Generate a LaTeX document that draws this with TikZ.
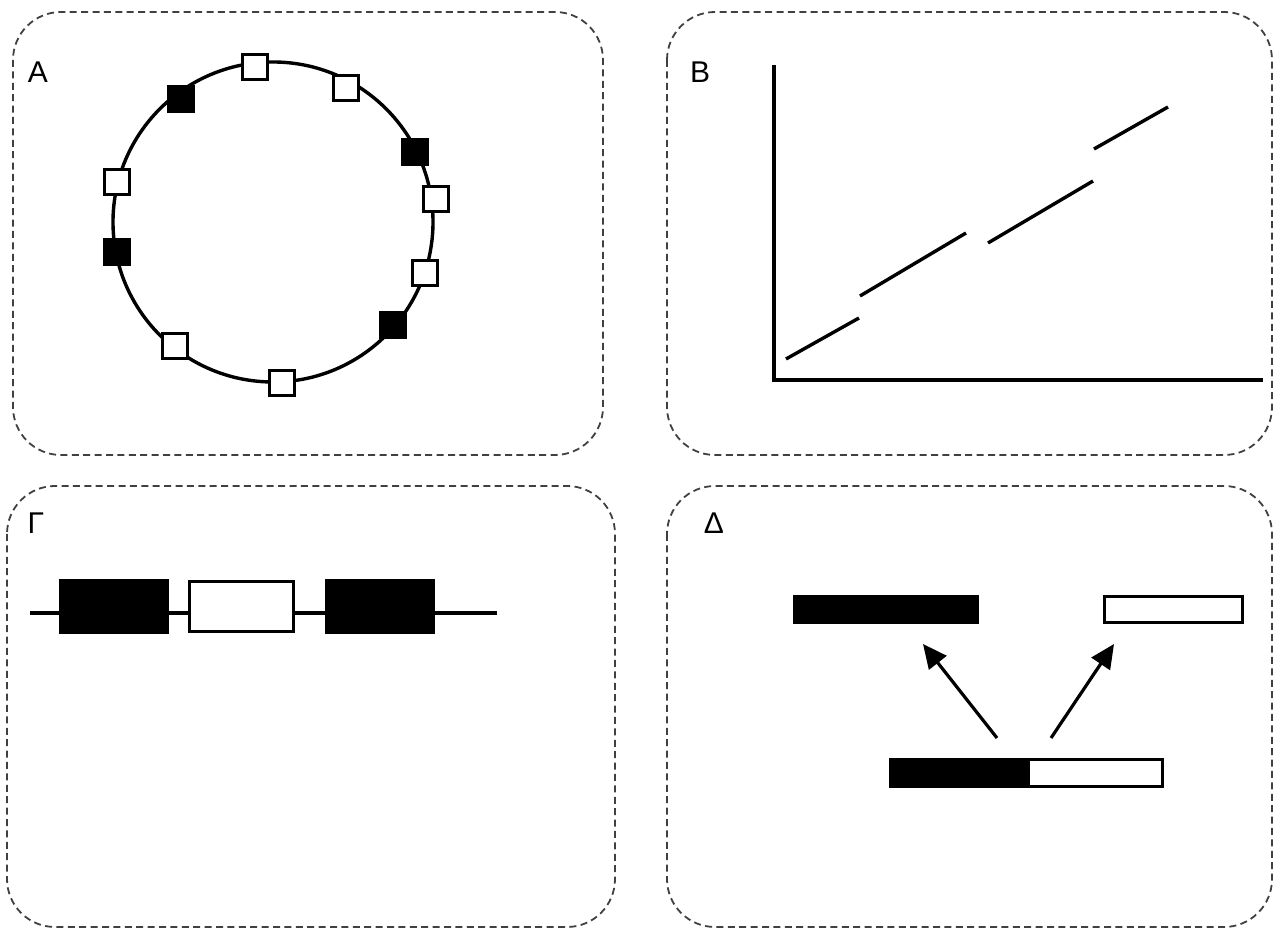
\documentclass[tikz,border=0pt]{standalone}
\usepackage{fontspec}
\setmainfont{Liberation Sans}
\usetikzlibrary{arrows.meta}
\definecolor{dashgray}{HTML}{404040}
\tikzset{
  panel/.style={draw=dashgray, line width=0.9pt, dash pattern=on 3.5pt off 2.2pt, rounded corners=24pt},
  plabel/.style={inner sep=0pt, font=\fontsize{15}{18}\selectfont},
  sqopen/.style={draw=black, fill=white, line width=1.6pt, minimum size=12.5pt, inner sep=0pt},
  sqfull/.style={draw=black, fill=black, line width=1.6pt, minimum size=12.5pt, inner sep=0pt},
  thick line/.style={line width=1.7pt},
  barfull/.style={draw=black, fill=black, line width=1.6pt, inner sep=0pt},
  baropen/.style={draw=black, fill=white, line width=1.6pt, inner sep=0pt},
  arr/.style={line width=1.6pt, -{Triangle[length=12pt,width=11pt]}}
}
\begin{document}
\begin{tikzpicture}[x=0.5pt,y=-0.5pt]
\useasboundingbox (0,0) rectangle (1274,929);
% panels
\draw[panel] (13,12) rectangle (603,455);
\draw[panel] (667,12) rectangle (1272,455);
\draw[panel] (7,486) rectangle (615,927);
\draw[panel] (667,486) rectangle (1272,927);
% labels
\node[plabel] (la) at (38,72) {Α};
\node[plabel] (lb) at (700,72) {Β};
\node[plabel] (lg) at (36,523) {Γ};
\node[plabel] (ld) at (714,523) {Δ};
% panel A
\draw[thick line] (273,222) circle [radius=80pt];
\node[sqopen] (s1) at (255,67) {};
\node[sqopen] (s2) at (346,88) {};
\node[sqfull] (s3) at (415,152) {};
\node[sqopen] (s4) at (436,199) {};
\node[sqopen] (s5) at (425,273) {};
\node[sqfull] (s6) at (393,325) {};
\node[sqopen] (s7) at (282,383) {};
\node[sqopen] (s8) at (175,346) {};
\node[sqfull] (s9) at (117,252) {};
\node[sqopen] (s10) at (117,182) {};
\node[sqfull] (s11) at (181,99) {};
% panel B
\coordinate (ytop) at (774,65);
\coordinate (orig) at (774,380);
\coordinate (xend) at (1263,380);
\draw[thick line] (ytop) -- (orig) -- (xend);
\draw[thick line] (786,359) -- (859,318);
\draw[thick line] (860,296) -- (966,233);
\draw[thick line] (988,243) -- (1093,181);
\draw[thick line] (1094,149) -- (1168,107);
% panel Gamma
\coordinate (g0) at (30,613);
\coordinate (g4) at (497,613);
\node[barfull, minimum width=53.5pt, minimum height=26pt] (g1) at (114,606.5) {};
\node[baropen, minimum width=52pt, minimum height=25pt] (g2) at (241.5,606.5) {};
\node[barfull, minimum width=53.5pt, minimum height=26pt] (g3) at (380,606.5) {};
\draw[thick line] (g0) -- (g0 -| g1.west);
\draw[thick line] (g1.east |- g0) -- (g0 -| g2.west);
\draw[thick line] (g2.east |- g0) -- (g0 -| g3.west);
\draw[thick line] (g3.east |- g0) -- (g4);
% panel Delta
\node[barfull, minimum width=91.5pt, minimum height=13pt] (d1) at (886,609.5) {};
\node[baropen, minimum width=69pt, minimum height=13pt] (d2) at (1173.5,609.5) {};
\node[barfull, minimum width=67.5pt, minimum height=13.5pt] (d3) at (958,773) {};
\node[baropen, minimum width=67pt, minimum height=13.5pt] (d4) at (1095.5,773) {};
\coordinate (a1s) at (997,738);
\coordinate (a1e) at (923,644);
\coordinate (a2s) at (1051,738);
\coordinate (a2e) at (1114,644);
\draw[arr] (a1s) -- (a1e);
\draw[arr] (a2s) -- (a2e);
\end{tikzpicture}
\end{document}
